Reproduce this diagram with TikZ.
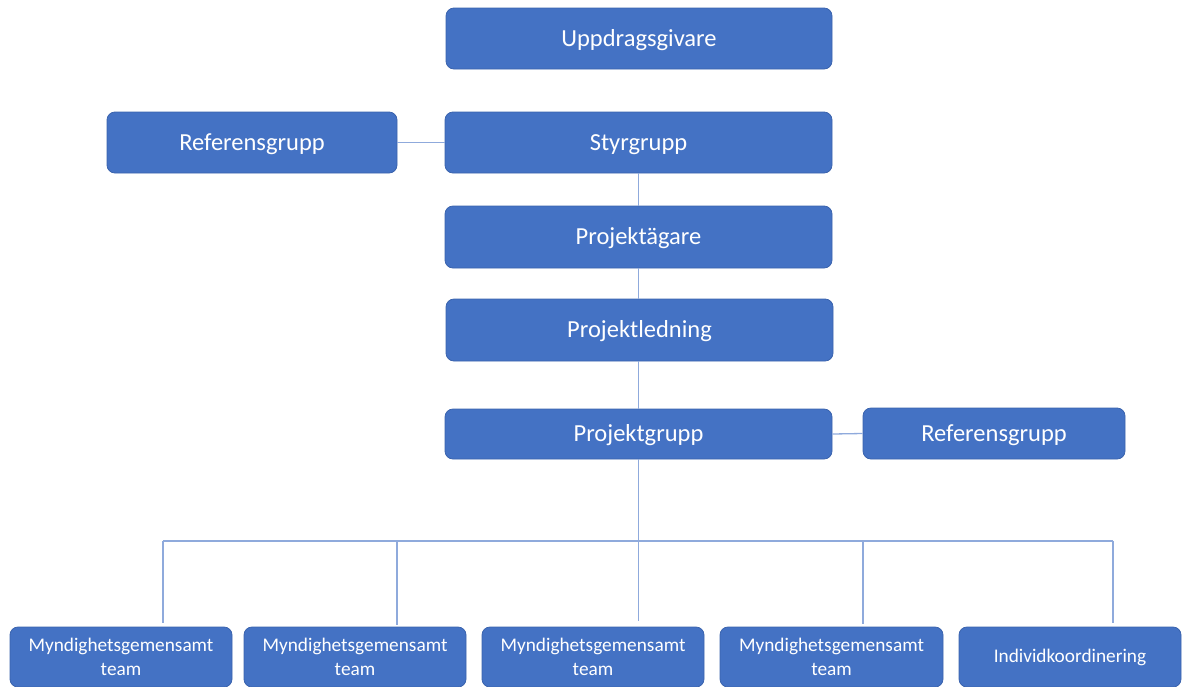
\documentclass[tikz,border=0pt]{standalone}
\usepackage{fontspec}
\setmainfont{Carlito}
\definecolor{boxfill}{HTML}{4472C4}
\definecolor{boxline}{HTML}{3A63AD}
\definecolor{connc}{HTML}{8FAADC}
\begin{document}
\begin{tikzpicture}[x=1pt,y=-1pt,
  base/.style={draw=boxline, line width=0.8pt, fill=boxfill, rounded corners=8pt,
    text=white, align=center, inner sep=0pt},
  box/.style={base, font=\fontsize{24.5}{27}\selectfont, text height=20.5pt, text depth=5pt},
  small/.style={base, font=\fontsize{19.3}{23.5}\selectfont},
  conn/.style={draw=connc, line width=1.3pt}]
\useasboundingbox (0,0) rectangle (1190,686);
\clip (0,0) rectangle (1190,686);
\node[box, minimum width=386pt, minimum height=61pt] (upp) at (639,38.5) {Uppdragsgivare};
\node[box, minimum width=387pt, minimum height=61pt] (styr) at (638.5,142.5) {Styrgrupp};
\node[box, minimum width=290pt, minimum height=61pt] (refL) at (252,142.5) {Referensgrupp};
\node[box, minimum width=387pt, minimum height=62pt] (pag) at (638.5,237) {Projektägare};
\node[box, minimum width=387pt, minimum height=62pt] (pled) at (639.5,330) {Projektledning};
\node[box, minimum width=387pt, minimum height=50pt] (pgr) at (638.5,434) {Projektgrupp};
\node[box, minimum width=262pt, minimum height=51pt] (refR) at (994,433.5) {Referensgrupp};
\node[small, minimum width=222pt, minimum height=60pt] (b1) at (121,657) {Myndighetsgemensamt\\team};
\node[small, minimum width=222pt, minimum height=60pt] (b2) at (355,657) {Myndighetsgemensamt\\team};
\node[small, minimum width=222pt, minimum height=60pt] (b3) at (593,657) {Myndighetsgemensamt\\team};
\node[small, minimum width=223pt, minimum height=60pt] (b4) at (831.5,657) {Myndighetsgemensamt\\team};
\node[small, minimum width=222pt, minimum height=60pt] (b5) at (1070,657) {Individkoordinering};
\draw[conn] (refL.east) -- (styr.west);
\draw[conn] (styr.south) -- (styr.south |- pag.north);
\draw[conn] (pag.south) -- (pag.south |- pled.north);
\draw[conn] (pled.south -| pgr.north) -- (pgr.north);
\draw[conn] (pgr.east) -- (refR.west);
\coordinate (d1) at (163,541);
\coordinate (d2) at (397,541);
\coordinate (d4) at (863,541);
\coordinate (d5) at (1113,541);
\draw[conn] (d1) -- (d5);
\draw[conn, shorten >=4pt] (d1) -- (d1 |- b1.north);
\draw[conn, shorten >=2pt] (d2) -- (d2 |- b2.north);
\draw[conn, shorten >=6pt] (pgr.south) -- (pgr.south |- b3.north);
\draw[conn, shorten >=3pt] (d4) -- (d4 |- b4.north);
\draw[conn, shorten >=4pt] (d5) -- (d5 |- b5.north);
\end{tikzpicture}
\end{document}
